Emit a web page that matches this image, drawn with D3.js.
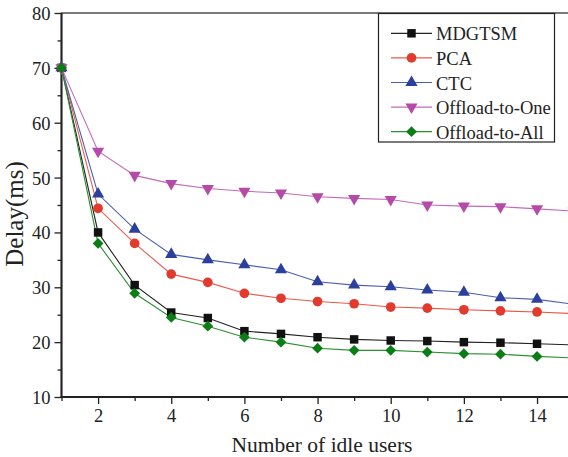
<!DOCTYPE html>
<html>
<head>
<meta charset="utf-8">
<script src="https://cdn.jsdelivr.net/npm/d3@7"></script>
<style>
  body { margin: 0; background: #fff; }
  svg { display: block; font-family: 'Liberation Serif', 'Times New Roman', serif; }
</style>
</head>
<body>
<svg id="chart" width="568" height="457"></svg>
<script>
const users = [1, 2, 3, 4, 5, 6, 7, 8, 9, 10, 11, 12, 13, 14, 15]
const mdgtsm = [70, 40, 30.4, 25.4, 24.4, 22, 21.5, 20.9, 20.5, 20.3, 20.2, 20, 19.9, 19.7, 19.5]
const pca = [70, 44.4, 38, 32.4, 30.9, 28.9, 28, 27.4, 27, 26.4, 26.2, 25.9, 25.7, 25.5, 25.2]
const ctc = [70, 47, 40.6, 36, 35, 34.1, 33.2, 31, 30.4, 30.1, 29.5, 29.1, 28.1, 27.8, 26.9]
const offloadOne = [70, 54.8, 50.4, 48.9, 48, 47.5, 47.2, 46.5, 46.2, 46, 45, 44.8, 44.7, 44.3, 43.9]
const offloadAll = [70, 38, 28.9, 24.5, 22.9, 20.9, 20, 18.9, 18.5, 18.5, 18.2, 17.9, 17.8, 17.4, 17.1]
const seriesNames = ['MDGTSM', 'PCA', 'CTC', 'Offload-to-One', 'Offload-to-All']
const xTicks = [2, 4, 6, 8, 10, 12, 14]
const yTicks = [10, 20, 30, 40, 50, 60, 70, 80]

const series = [
  { name: seriesNames[0], values: mdgtsm, color: '#111111', line: '#222222', shape: 'square' },
  { name: seriesNames[1], values: pca, color: '#e23a2c', line: '#ea5a4c', shape: 'circle' },
  { name: seriesNames[2], values: ctc, color: '#2b3f9c', line: '#4a5eb0', shape: 'up' },
  { name: seriesNames[3], values: offloadOne, color: '#b54aa8', line: '#c36ab8', shape: 'down' },
  { name: seriesNames[4], values: offloadAll, color: '#0b7d15', line: '#2a9030', shape: 'diamond' }
]

const svg = d3.select('#chart')
const plotLeft = 61.5
const plotTop = 13
const plotBottom = 397

const xScale = d3.scaleLinear().domain([1, 15]).range([plotLeft, plotLeft + 14 * 36.58])
const yScale = d3.scaleLinear().domain([10, 80]).range([plotBottom, plotTop])

function symbolFor(shape) {
  if (shape === 'square') return d3.symbol(d3.symbolSquare, 72)
  if (shape === 'circle') return d3.symbol(d3.symbolCircle, 74)
  if (shape === 'diamond') return d3.symbol(d3.symbolDiamond2, 74)
  return d3.symbol(d3.symbolTriangle, 64)
}
function markerTransform(shape, x, y) {
  if (shape === 'down') return `translate(${x},${y}) rotate(180)`
  return `translate(${x},${y})`
}

// major + minor ticks
const xAxis = d3.axisBottom(xScale).tickValues(xTicks).tickSize(7).tickFormat(d3.format('d'))
const xMinor = d3.axisBottom(xScale).tickValues([1, 3, 5, 7, 9, 11, 13, 15]).tickSize(4).tickFormat('')
const yAxis = d3.axisLeft(yScale).tickValues(yTicks).tickSize(7).tickFormat(d3.format('d'))
const yMinor = d3.axisLeft(yScale).tickValues([15, 25, 35, 45, 55, 65, 75]).tickSize(4).tickFormat('')

const gx = svg.append('g').attr('transform', `translate(0,${plotBottom})`)
gx.call(xAxis)
gx.append('g').call(xMinor)
const gy = svg.append('g').attr('transform', `translate(${plotLeft},0)`)
gy.call(yAxis)
gy.append('g').call(yMinor)

svg.selectAll('.domain').remove()
svg.selectAll('.tick line').attr('stroke', '#222').attr('stroke-width', 1.3)
svg.selectAll('.tick text')
  .attr('font-family', "'Liberation Serif', serif")
  .attr('font-size', 18.5)
  .attr('fill', '#222')
gx.selectAll('.tick text').attr('y', 12)
gy.selectAll('.tick text').attr('x', -11).attr('dy', '0.35em')

// plot frame
svg.append('rect')
  .attr('x', plotLeft)
  .attr('y', plotTop)
  .attr('width', xScale(15) - plotLeft)
  .attr('height', plotBottom - plotTop)
  .attr('fill', 'none')
  .attr('stroke', '#333')
  .attr('stroke-width', 1.3)
svg.append('line')
  .attr('x1', plotLeft).attr('x2', plotLeft).attr('y1', plotTop).attr('y2', plotBottom + 1)
  .attr('stroke', '#222').attr('stroke-width', 2)
svg.append('line')
  .attr('x1', plotLeft - 1).attr('x2', 568).attr('y1', plotBottom).attr('y2', plotBottom)
  .attr('stroke', '#222').attr('stroke-width', 2)

const line = d3.line().x((d, i) => xScale(users[i])).y(d => yScale(d))

const plot = svg.append('g')
series.forEach(s => {
  plot.append('path')
    .datum(s.values)
    .attr('d', line)
    .attr('fill', 'none')
    .attr('stroke', s.line)
    .attr('stroke-width', 1.1)
})
series.forEach(s => {
  plot.selectAll(null)
    .data(s.values)
    .join('path')
    .attr('d', symbolFor(s.shape))
    .attr('transform', (d, i) => markerTransform(s.shape, xScale(users[i]), yScale(d)))
    .attr('fill', s.color)
})

// axis titles
svg.append('text')
  .attr('x', 322)
  .attr('y', 452)
  .attr('text-anchor', 'middle')
  .attr('font-size', 21.5)
  .attr('fill', '#222')
  .text('Number of idle users')
svg.append('text')
  .attr('transform', 'translate(23,214) rotate(-90)')
  .attr('text-anchor', 'middle')
  .attr('font-size', 25)
  .attr('fill', '#222')
  .text('Delay(ms)')

// legend
const legend = svg.append('g')
legend.append('rect')
  .attr('x', 378.5).attr('y', 13.5)
  .attr('width', 176).attr('height', 128.5)
  .attr('fill', '#fff')
  .attr('stroke', '#222')
  .attr('stroke-width', 1.2)
series.forEach((s, i) => {
  const cy = 33.3 + i * 24.6
  legend.append('line')
    .attr('x1', 391).attr('x2', 432).attr('y1', cy).attr('y2', cy)
    .attr('stroke', s.line).attr('stroke-width', 1.2)
  legend.append('path')
    .attr('d', symbolFor(s.shape))
    .attr('transform', markerTransform(s.shape, 411.5, cy))
    .attr('fill', s.color)
  legend.append('text')
    .attr('x', 436)
    .attr('y', cy + 7)
    .attr('font-size', 18.5)
    .attr('fill', '#222')
    .text(s.name)
})
</script>
</body>
</html>
